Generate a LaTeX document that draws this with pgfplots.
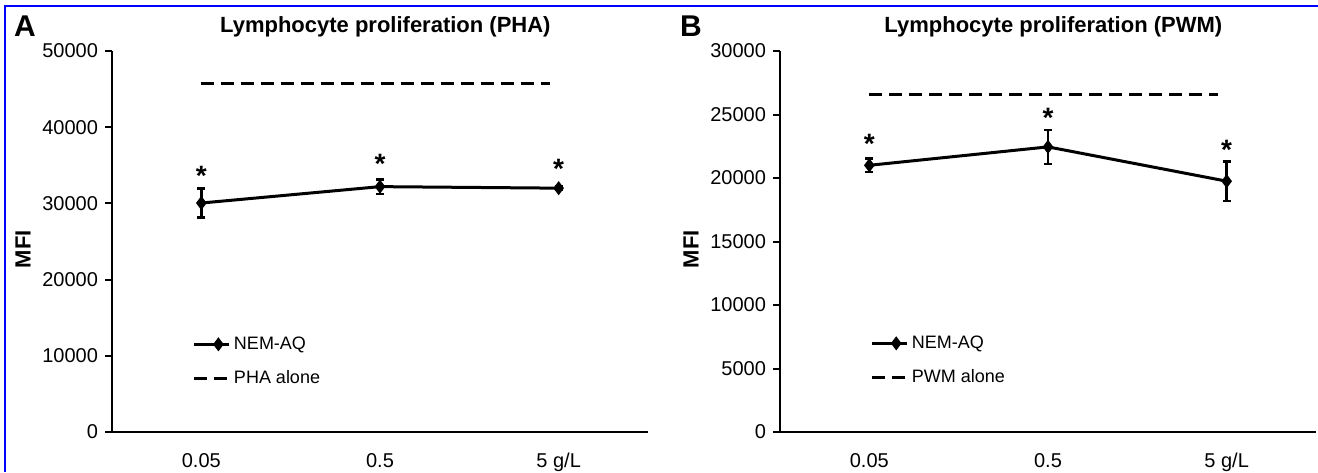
\documentclass[border=0pt]{standalone}
\usepackage{pgfplots}
\pgfplotsset{compat=1.18}
\usepackage{fontspec}
\setmainfont{Liberation Sans}

% shared look of both panels
\pgfplotsset{
  panel/.style={
    scale only axis,
    width=268pt, height=190.5pt,
    anchor=south west,
    axis lines=left,
    axis line style={-, line width=1.4pt},
    xmin=-0.5, xmax=2.5, ymin=0,
    xtick={0,1,2},
    xticklabels={0.05,0.5,5 g/L},
    major x tick style={draw=none},
    xticklabel style={yshift=-3.5pt},
    tick align=outside,
    major tick length=3.5pt,
    major y tick style={line width=1pt, black},
    tick label style={font=\fontsize{10}{12}\selectfont},
    /pgf/number format/assume math mode=true,
    /pgf/number format/1000 sep={},
    scaled y ticks=false,
    ylabel={MFI},
    ylabel style={at={(axis description cs:-0.166,0.48)}, anchor=center,
      font=\bfseries\fontsize{11}{12}\selectfont},
    title style={at={(axis description cs:0.51,1)}, anchor=center, yshift=6pt,
      font=\bfseries\fontsize{11}{13}\selectfont},
    legend style={draw=none, fill=none, font=\fontsize{9}{11}\selectfont,
      row sep=4.5pt, inner sep=0pt,
      nodes={inner sep=1.5pt, text height=7.5pt, text depth=2pt}},
    legend cell align=left,
    legend image code/.code={
      \draw[mark repeat=2,mark phase=2,##1] plot coordinates {(0pt,0pt) (12pt,0pt) (17.5pt,0pt)};},
    clip=false,
  },
  mean/.style={black, line width=1.5pt, mark=diamond*, mark size=2.3pt,
    error bars/.cd, y dir=both, y explicit,
    error bar style={line width=1.2pt},
    error mark options={rotate=90, mark size=2pt, line width=1.2pt}},
  ctrl/.style={black, line width=1.6pt, dash pattern=on 6.3pt off 3.7pt},
  star/.style={draw=none, mark=none, forget plot,
    nodes near coords={\bfseries *}, nodes near coords align=center,
    every node near coord/.append style={font=\fontsize{14}{14}\selectfont, anchor=center}},
}

\begin{document}
\begin{tikzpicture}
\useasboundingbox (0,0) rectangle (659pt,236pt);
\draw[blue, line width=1.2pt] (2.5pt,0) -- (2.5pt,233pt) -- (659pt,233pt);

% panel A
\begin{axis}[panel, at={(56pt,20pt)},
  ymax=50000, ytick={0,10000,20000,30000,40000,50000},
  title={Lymphocyte proliferation (PHA)},
  legend style={at={(axis cs:-0.05,13200)}, anchor=north west}]
\addplot[mean] coordinates {
  (0,30050) +- (0,1900)
  (1,32200) +- (0,950)
  (2,32000) +- (0,200)
};
\addlegendentry{NEM-AQ}
\addplot[ctrl] coordinates {(0,45690) (1.95,45690)};
\addlegendentry{PHA alone}
\addplot[star] coordinates {(0,33600) (1,35140) (2,34480)};
\end{axis}

% panel B
\begin{axis}[panel, at={(390pt,20pt)},
  ymax=30000, ytick={0,5000,10000,15000,20000,25000,30000},
  title={Lymphocyte proliferation (PWM)},
  legend style={at={(axis cs:0.005,7995)}, anchor=north west}]
\addplot[mean] coordinates {
  (0,21000) +- (0,550)
  (1,22450) +- (0,1350)
  (2,19750) +- (0,1550)
};
\addlegendentry{NEM-AQ}
\addplot[ctrl] coordinates {(0,26560) (1.95,26560)};
\addlegendentry{PWM alone}
\addplot[star] coordinates {(0,22650) (1,24760) (2,22250)};
\end{axis}

\node[font=\bfseries\fontsize{15}{18}\selectfont] at (12.5pt,223pt) {A};
\node[font=\bfseries\fontsize{15}{18}\selectfont] at (345.5pt,223pt) {B};
\end{tikzpicture}
\end{document}
